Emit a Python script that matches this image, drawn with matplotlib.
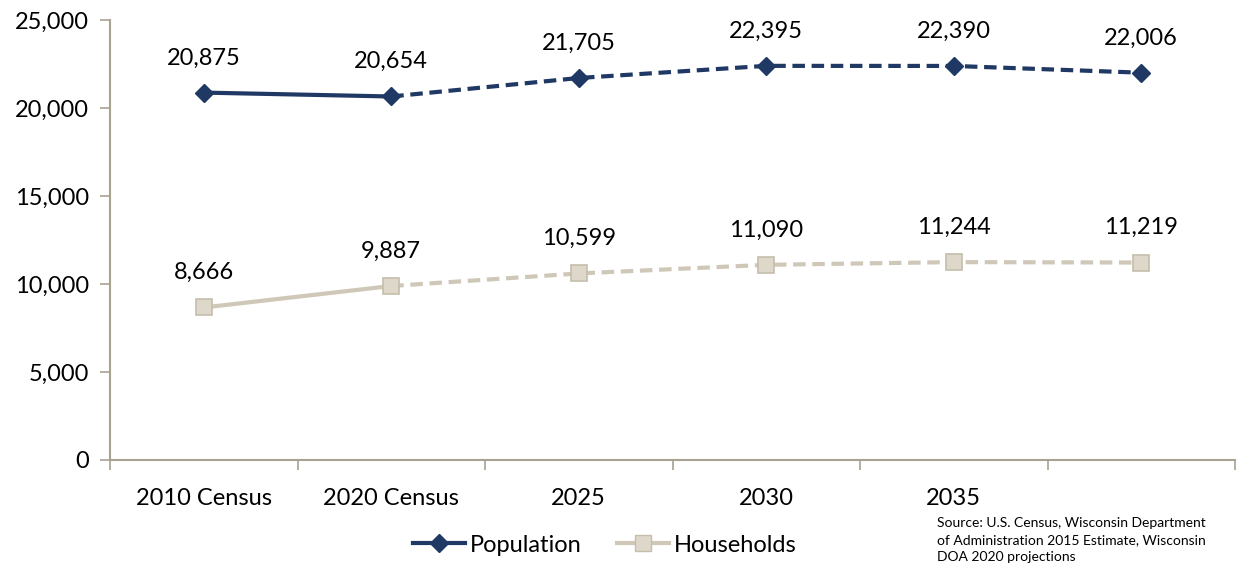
import matplotlib
matplotlib.use("Agg")
import matplotlib.pyplot as plt
from matplotlib.lines import Line2D

categories = ["2010 Census", "2020 Census", "2025", "2030", "2035", ""]
population = [20875, 20654, 21705, 22395, 22390, 22006]
households = [8666, 9887, 10599, 11090, 11244, 11219]
y_ticks = [0, 5000, 10000, 15000, 20000, 25000]
source_text = ("Source: U.S. Census, Wisconsin Department\n"
               "of Administration 2015 Estimate, Wisconsin\n"
               "DOA 2020 projections")

plt.rcParams['font.family'] = ['Lato', 'DejaVu Sans']

pop_color = "#1F3864"
hh_line = "#CFC8B8"
hh_face = "#DDD8CA"
hh_edge = "#C5BEAC"
axis_color = "#A8A291"

fig = plt.figure(figsize=(12.36, 5.68), dpi=100)
ax = fig.add_axes([110/1236, 1-460/568, 1125/1236, 440/568])

x = list(range(len(categories)))

# Population
ax.plot(x[:2], population[:2], color=pop_color, lw=3, solid_capstyle='round', zorder=3)
ax.plot(x[1:], population[1:], color=pop_color, lw=3, dashes=(3, 1.6), zorder=3)
ax.plot(x, population, ls='none', marker='D', ms=9, color=pop_color, zorder=4)

# Households
ax.plot(x[:2], households[:2], color=hh_line, lw=3, zorder=3)
ax.plot(x[1:], households[1:], color=hh_line, lw=3, dashes=(3, 1.6), zorder=3)
ax.plot(x, households, ls='none', marker='s', ms=12, markerfacecolor=hh_face,
        markeredgecolor=hh_edge, markeredgewidth=1.2, zorder=4)

for xi, v in zip(x, population):
    ax.annotate(f"{v:,}", (xi, v), xytext=(0, 25), textcoords='offset points',
                ha='center', va='center', fontsize=17, color='black')
for xi, v in zip(x, households):
    ax.annotate(f"{v:,}", (xi, v), xytext=(0, 25), textcoords='offset points',
                ha='center', va='center', fontsize=17, color='black')

ax.set_xlim(-0.5, len(categories) - 0.5)
ax.set_ylim(0, 25000)
ax.set_yticks(y_ticks)
ax.set_yticklabels([f"{t:,}" for t in y_ticks])
ax.set_xticks(x)
ax.set_xticklabels(categories)
ax.set_xticks([i - 0.5 for i in range(len(categories) + 1)], minor=True)

ax.tick_params(axis='y', length=7, width=1.2, color=axis_color, labelsize=17, pad=8)
ax.tick_params(axis='x', which='major', length=0, labelsize=17, pad=20)
ax.tick_params(axis='x', which='minor', length=7, width=1.2, color=axis_color)

for s in ['top', 'right']:
    ax.spines[s].set_visible(False)
for s in ['left', 'bottom']:
    ax.spines[s].set_color(axis_color)
    ax.spines[s].set_linewidth(1.5)

handles = [
    Line2D([], [], color=pop_color, lw=3, marker='D', ms=9),
    Line2D([], [], color=hh_line, lw=3, marker='s', ms=12,
           markerfacecolor=hh_face, markeredgecolor=hh_edge),
]
fig.legend(handles, ["Population", "Households"], loc='center',
           bbox_to_anchor=(605/1236, 1-545/568), ncol=2, frameon=False,
           fontsize=17, handlelength=2.2, handletextpad=0.2, columnspacing=1.5)

fig.text(937/1236, 1-540/568, source_text, fontsize=10, ha='left', va='center',
         linespacing=1.5)

fig.savefig("out.png", dpi=100)
